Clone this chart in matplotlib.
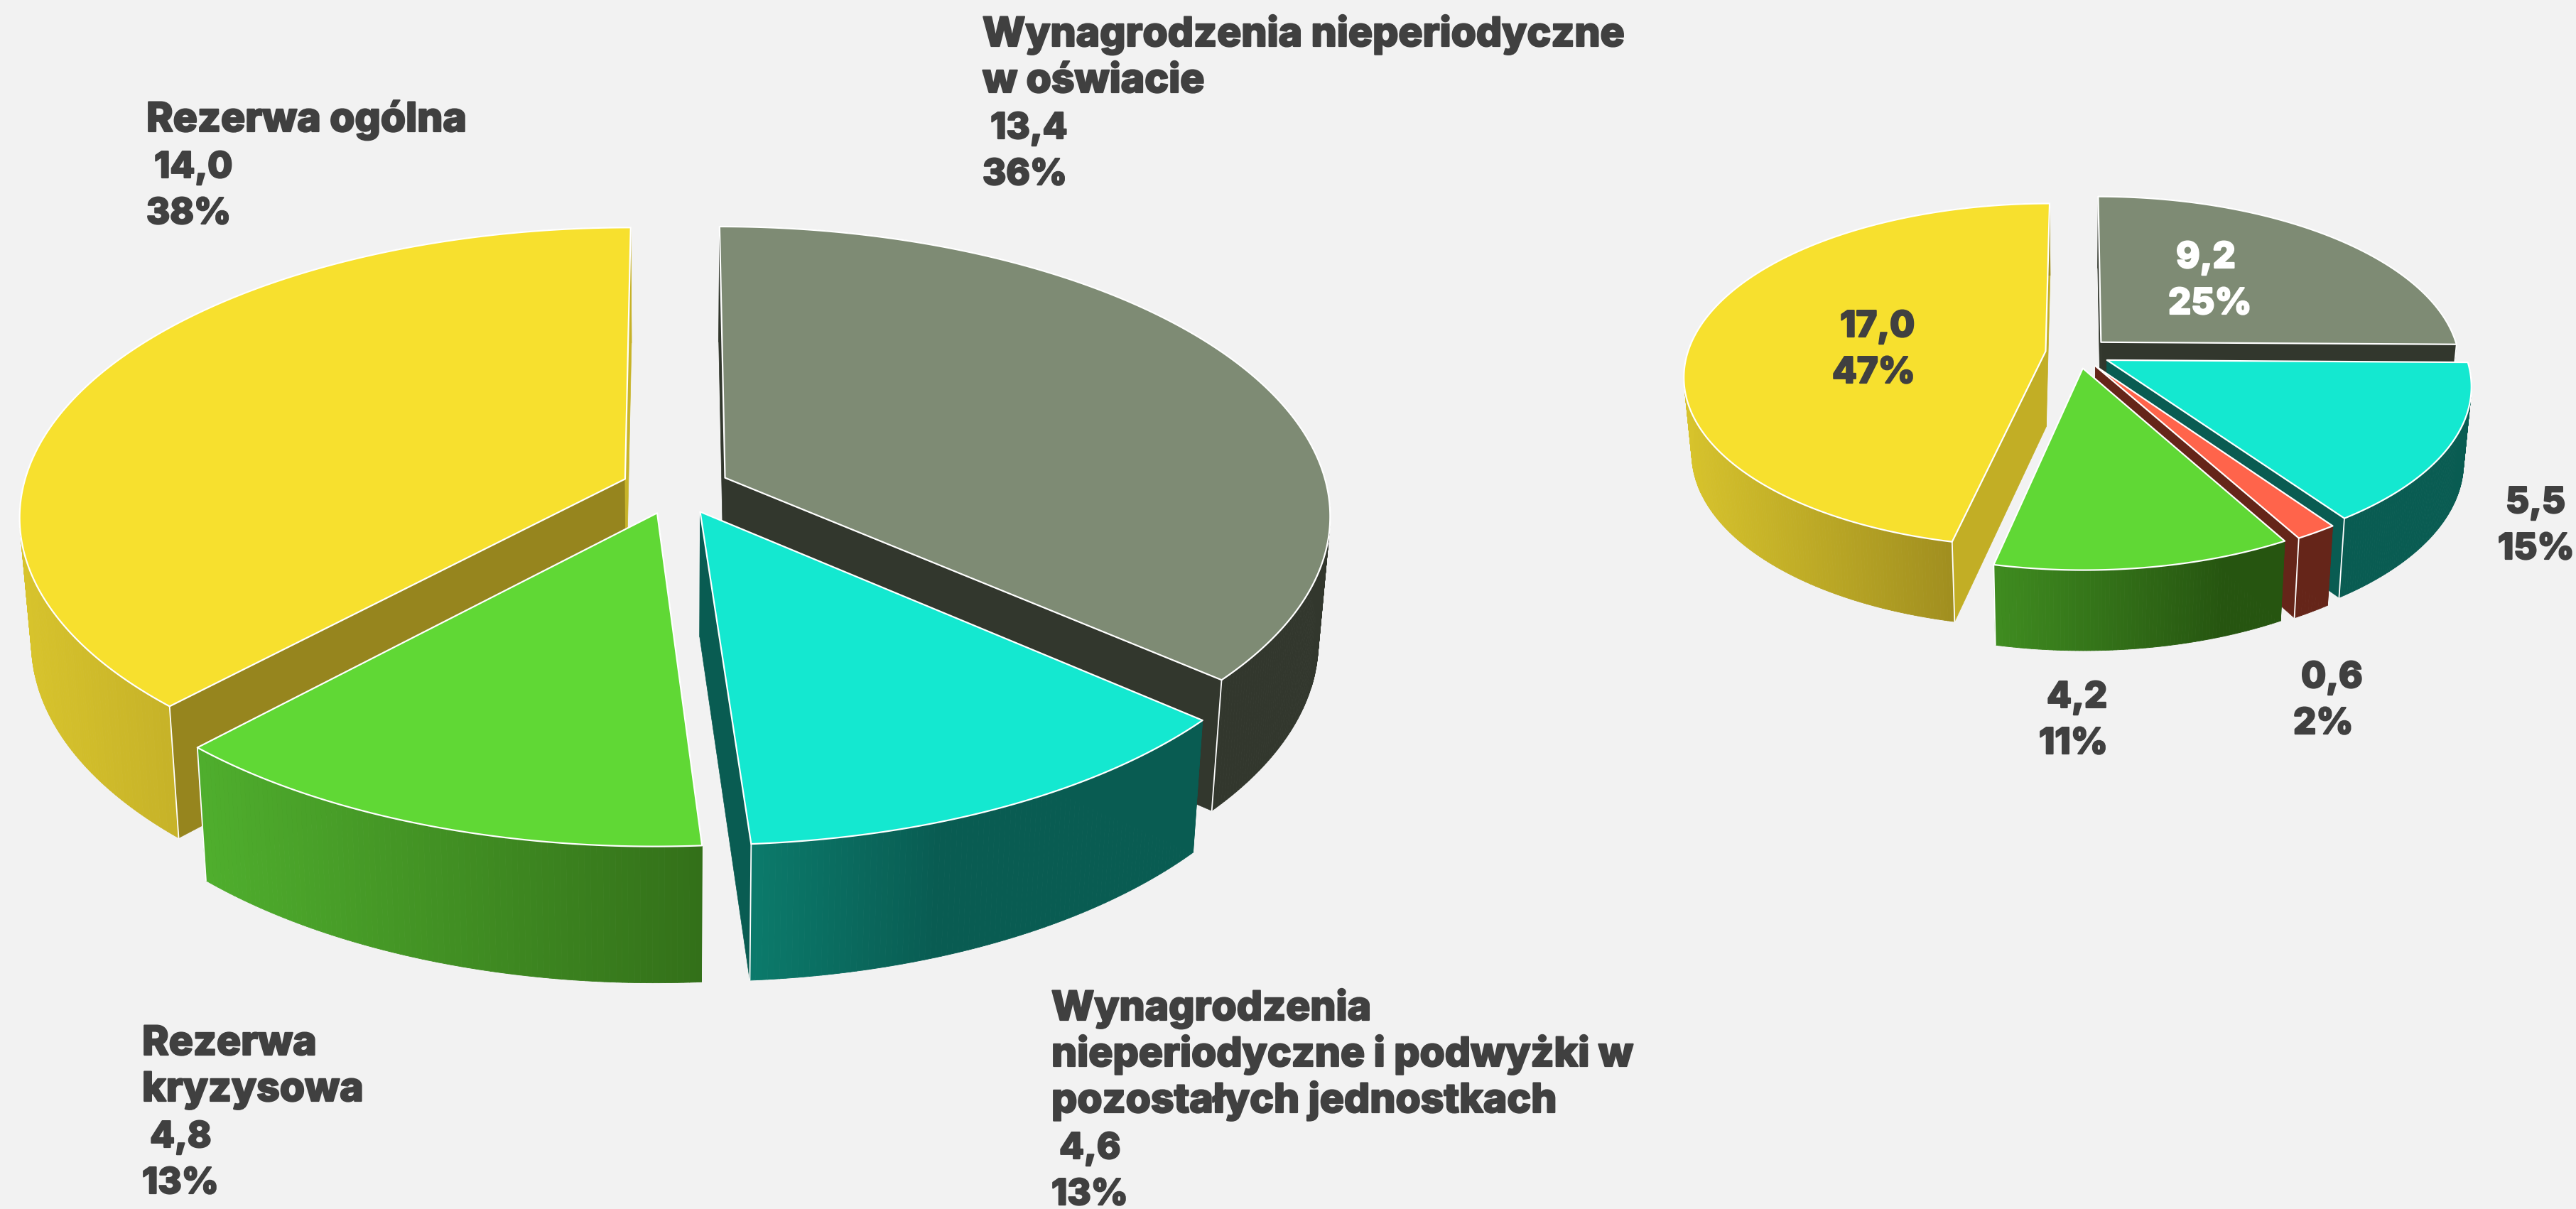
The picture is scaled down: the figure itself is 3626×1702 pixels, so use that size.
import numpy as np
import matplotlib
matplotlib.use("Agg")
import matplotlib.pyplot as plt
import matplotlib.patheffects as pe
from matplotlib.collections import PolyCollection
from matplotlib.colors import to_rgb
from matplotlib.patches import Polygon

W, H = 3626, 1702
BG = "#F2F2F2"
INK = "#404040"

# ---- data ----
left_values = [13.4, 4.6, 4.8, 14.0]
right_values = [9.2, 5.5, 0.6, 4.2, 17.0]

left_labels = [
    ["Wynagrodzenia nieperiodyczne", "w oświacie", " 13,4", "36%"],
    ["Wynagrodzenia", "nieperiodyczne i podwyżki w", "pozostałych jednostkach", " 4,6", "13%"],
    ["Rezerwa", "kryzysowa", " 4,8", "13%"],
    ["Rezerwa ogólna", " 14,0", "38%"],
]
right_labels = [
    [" 9,2", "25%"],
    [" 5,5", "15%"],
    [" 0,6", "2%"],
    [" 4,2", "11%"],
    [" 17,0", "47%"],
]

# ---- styles ----
GRAY, TEAL, GREEN, YELLOW, ORANGE = "#7E8B74", "#14E8D0", "#60D835", "#F7E02E", "#FF644B"
DGRAY, DTEAL, BROWN = "#32372D", "#095C52", "#652519"

left_style = dict(
    tops=[GRAY, TEAL, GREEN, YELLOW],
    start_faces=[DGRAY, DTEAL, "#337019", "#96851E"],
    end_faces=[DGRAY, DTEAL, "#337019", "#C8B428"],
    sides=[
        ([0, 1], [DGRAY, DGRAY]),
        ([1056, 1320], ["#0B7A6B", DTEAL]),
        ([289, 987], ["#4FAE2D", "#337019"]),
        ([28, 249], ["#D8C42C", "#C6B228"]),
    ],
    order=[3, 0, 1, 2],
    start_corner=[False, False, False, True],
)
right_style = dict(
    tops=[GRAY, TEAL, ORANGE, GREEN, YELLOW],
    start_faces=[DGRAY, DTEAL, BROWN, "#265510", "#C2AE25"],
    end_faces=[DGRAY, DTEAL, BROWN, "#265510", "#C2AE25"],
    sides=[
        ([0, 1], [DGRAY, DGRAY]),
        ([0, 1], [DTEAL, DTEAL]),
        ([0, 1], [BROWN, BROWN]),
        ([2810, 3130], ["#3F8C20", "#265510"]),
        ([2369, 2752], ["#D8C42C", "#A08E1F"]),
    ],
    order=[0, 4, 1, 2, 3],
    start_corner=[False, False, False, False, True],
)

left_geom = dict(cx=951, cy=687.6, rx=848, ry=401.4, k=0.125, e=0.0905,
                 shrink=0.982, d0=176, y0=720, dslope=0.034)
right_geom = dict(cx=2925, cy=496.8, rx=504, ry=237.7, k=0.14, e=0.091,
                  shrink=0.98, d0=106, y0=495, dslope=0.024)

plt.rcParams["font.family"] = ["Inter", "DejaVu Sans"]
FS_WORDS = 41
FS_NUMS = 36.5
LINE = 65

fig = plt.figure(figsize=(W / 100, H / 100), dpi=100, facecolor=BG)
ax = fig.add_axes([0, 0, 1, 1])
ax.set_xlim(0, W)
ax.set_ylim(H, 0)
ax.axis("off")


def draw_pie(values, style, g):
    vals = np.asarray(values, float)
    edges = np.concatenate([[0], np.cumsum(vals)]) / vals.sum() * 2 * np.pi

    def top(theta, mid):
        U = g["e"] * np.sin(mid) + np.sin(theta)
        V = -g["e"] * np.cos(mid) - np.cos(theta)
        w = 1 - g["k"] * V
        return g["cx"] + g["rx"] * U / w, g["cy"] + g["ry"] * V / w

    def apex(mid):
        U = g["e"] * np.sin(mid)
        V = -g["e"] * np.cos(mid)
        w = 1 - g["k"] * V
        return g["cx"] + g["rx"] * U / w, g["cy"] + g["ry"] * V / w

    def down(x, y):
        return (g["cx"] + g["shrink"] * (x - g["cx"]),
                y + g["d0"] + g["dslope"] * (y - g["y0"]))

    for i in style["order"]:
        a0, a1 = edges[i], edges[i + 1]
        mid = (a0 + a1) / 2
        th = np.linspace(a0, a1, max(6, int((a1 - a0) / np.radians(0.5))))
        xt, yt = top(th, mid)
        xb, yb = down(xt, yt)
        ax0, ay0 = apex(mid)
        bx0, by0 = down(ax0, ay0)

        # cut faces
        for idx, col in ((0, style["start_faces"][i]), (-1, style["end_faces"][i])):
            ax.add_patch(Polygon(
                [(ax0, ay0), (xt[idx], yt[idx]), (xb[idx], yb[idx]), (bx0, by0)],
                closed=True, facecolor=col, edgecolor=col, lw=0.5, zorder=2))

        # outer wall with horizontal gradient
        stops_x, stops_c = style["sides"][i]
        rgb = np.array([to_rgb(c) for c in stops_c])
        xm = (xt[:-1] + xt[1:] + xb[:-1] + xb[1:]) / 4
        cols = np.column_stack([np.interp(xm, stops_x, rgb[:, j]) for j in range(3)])
        quads = [[(xt[j], yt[j]), (xt[j + 1], yt[j + 1]), (xb[j + 1], yb[j + 1]), (xb[j], yb[j])]
                 for j in range(len(xm))]
        ax.add_collection(PolyCollection(quads, facecolors=cols, edgecolors=cols,
                                         linewidths=0.6, zorder=2))

        # white vertical corner
        corner = 0 if style["start_corner"][i] else -1
        ax.plot([xt[corner], xb[corner]], [yt[corner], yb[corner]],
                color="white", lw=1.3, zorder=2, solid_capstyle="round")

        # top surface
        ax.add_patch(Polygon(
            np.column_stack([np.r_[ax0, xt], np.r_[ay0, yt]]),
            closed=True, facecolor=style["tops"][i], edgecolor="white",
            lw=1.6, joinstyle="round", zorder=2))


draw_pie(left_values, left_style, left_geom)
draw_pie(right_values, right_style, right_geom)


def put(lines, x, y, color=INK):
    for n, s in enumerate(lines):
        size = FS_WORDS if any(c.isalpha() for c in s) else FS_NUMS
        t = ax.text(x, y + n * LINE, s, fontsize=size, fontweight=800, color=color,
                    ha="left", va="baseline", zorder=5)
        t.set_path_effects([pe.withStroke(linewidth=1.6, foreground=color)])


left_anchor = [(1383, 65), (1480, 1436), (200, 1485), (206, 185)]
for lab, (x, y) in zip(left_labels, left_anchor):
    put(lab, x, y)

put(right_labels[0], 3052, 377, "white")
put(right_labels[1], 3516, 722)
put(right_labels[2], 3228, 968)
put(right_labels[3], 2870, 996)
put(right_labels[4], 2579, 474)

fig.savefig("out.png", dpi=100, facecolor=BG)
